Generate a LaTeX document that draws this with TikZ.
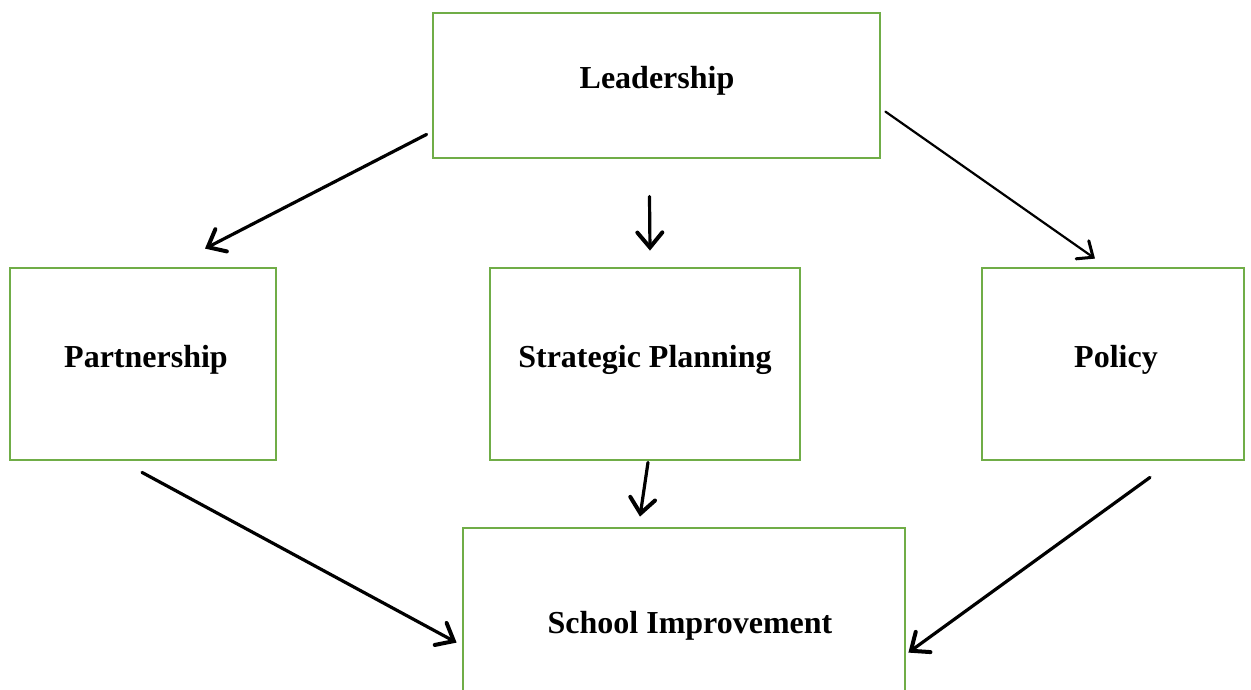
\documentclass[tikz,border=0pt]{standalone}
\usepackage{fontspec}
\setmainfont{Liberation Serif}
\usetikzlibrary{arrows.meta}
\definecolor{boxgreen}{HTML}{70AD47}
\tikzset{
  box/.style={draw=boxgreen, line width=2.8pt, rectangle, inner sep=0pt},
  label/.style={font=\bfseries\fontsize{32}{38}\selectfont, inner sep=0pt},
  link/.style={draw=black, line width=3.2pt, line cap=round,
    -{Straight Barb[length=15pt, width=25pt, line width=4pt 0, line cap=round]}},
  thinlink/.style={draw=black, line width=2.2pt, line cap=round,
    -{Straight Barb[length=13pt, width=22pt, line width=3pt 0, line cap=round]}}
}
\begin{document}
\begin{tikzpicture}[x=1pt, y=-1pt]
  \clip (0,0) rectangle (1251,690);
  \fill[white] (0,0) rectangle (1251,690);

  % boxes
  \node[box, minimum width=447pt, minimum height=145pt] (lead) at (656.5,85.5) {};
  \node[box, minimum width=266pt, minimum height=192pt] (part) at (143,364) {};
  \node[box, minimum width=310pt, minimum height=192pt] (strat) at (645,364) {};
  \node[box, minimum width=262pt, minimum height=192pt] (pol) at (1113,364) {};
  \node[box, minimum width=442pt, minimum height=188pt] (school) at (684,622) {};

  % box titles
  \node[label] (leadt) at (657,80.5) {Leadership};
  \node[label] (partt) at (146,360) {Partnership};
  \node[label] (stratt) at (645,360) {Strategic Planning};
  \node[label] (polt) at (1116,360) {Policy};
  \node[label] (schoolt) at (690,626) {School Improvement};

  % connectors
  \draw[link] ([shift={(-5,-25)}]lead.south west) -- ([shift={(62,-18)}]part.north);
  \draw[link] ([shift={(-7,37)}]lead.south) -- ([shift={(5,-16)}]strat.north);
  \draw[thinlink] ([shift={(4,100)}]lead.north east) -- ([shift={(-18,-8)}]pol.north);
  \draw[link] ([shift={(-1,11)}]part.south) -- ([shift={(-5,116)}]school.north west);
  \draw[link] ([shift={(3,1)}]strat.south) -- ([shift={(-44,-10)}]school.north);
  \draw[link] ([shift={(37,16)}]pol.south) -- ([shift={(2,126)}]school.north east);
\end{tikzpicture}
\end{document}
